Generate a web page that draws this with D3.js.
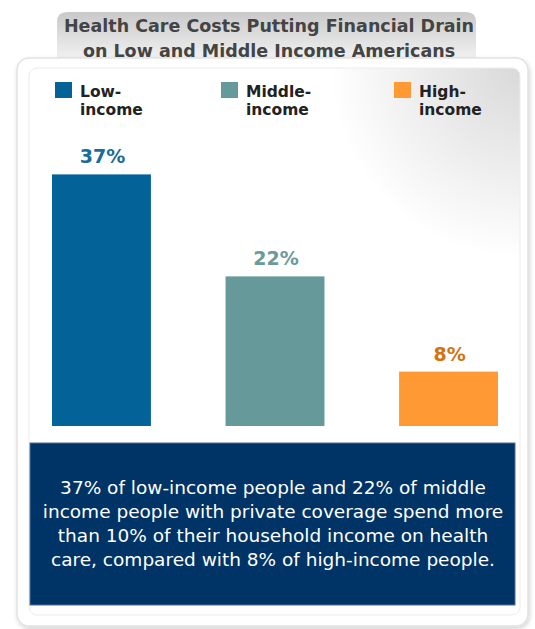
<!DOCTYPE html>
<html>
<head>
<meta charset="utf-8">
<script src="https://cdn.jsdelivr.net/npm/d3@7"></script>
<style>
  html, body { margin: 0; padding: 0; background: #fff; }
  svg { display: block; }
</style>
</head>
<body>
<svg id="chart"></svg>
<script>
// data
const categories = ['Low-income', 'Middle-income', 'High-income'];
const legendLines = [['Low-', 'income'], ['Middle-', 'income'], ['High-', 'income']];
const values = [37, 22, 8];
const titleLines = ['Health Care Costs Putting Financial Drain', 'on Low and Middle Income Americans'];
const noteLines = [
  '37% of low-income people and 22% of middle',
  'income people with private coverage spend more',
  'than 10% of their household income on health',
  'care, compared with 8% of high-income people.'
];

const barColors = ['#036399', '#669999', '#ff9933'];
const labelColors = ['#1b6b9b', '#6a9a9a', '#d2730f'];

const W = 535, H = 629;
const svg = d3.select('#chart').attr('width', W).attr('height', H);
const defs = svg.append('defs');

// gradients
const tabGrad = defs.append('linearGradient').attr('id', 'tabGrad')
  .attr('x1', 0).attr('y1', 0).attr('x2', 0).attr('y2', 1);
tabGrad.append('stop').attr('offset', '0%').attr('stop-color', '#c9c9c9');
tabGrad.append('stop').attr('offset', '100%').attr('stop-color', '#f4f4f4');

const panelGrad = defs.append('radialGradient').attr('id', 'panelGrad')
  .attr('gradientUnits', 'userSpaceOnUse')
  .attr('cx', 520).attr('cy', 68).attr('r', 190);
panelGrad.append('stop').attr('offset', '0%').attr('stop-color', '#d9d9d9');
panelGrad.append('stop').attr('offset', '100%').attr('stop-color', '#ffffff');

const shadow = defs.append('filter').attr('id', 'shadow')
  .attr('x', '-5%').attr('y', '-5%').attr('width', '110%').attr('height', '110%');
shadow.append('feDropShadow').attr('dx', 1).attr('dy', 2).attr('stdDeviation', 2)
  .attr('flood-color', '#000').attr('flood-opacity', 0.18);

// title tab
svg.append('path')
  .attr('d', 'M57,62 L57,22 Q57,12 67,12 L466,12 Q476,12 476,22 L476,62 Z')
  .attr('fill', 'url(#tabGrad)');

svg.append('g').selectAll('text').data(titleLines).enter().append('text')
  .attr('x', 269).attr('y', (d, i) => 32 + i * 25)
  .attr('text-anchor', 'middle')
  .style('font-family', 'DejaVu Sans, Verdana, sans-serif')
  .style('font-weight', 'bold').style('font-size', '17.5px')
  .attr('fill', '#444')
  .text(d => d);

// outer panel and inner panel
svg.append('rect').attr('x', 17).attr('y', 58).attr('width', 511).attr('height', 568)
  .attr('rx', 12).attr('fill', '#fff').attr('stroke', '#e2e2e2').attr('stroke-width', 1.5)
  .attr('filter', 'url(#shadow)');
svg.append('rect').attr('x', 29).attr('y', 68).attr('width', 491).attr('height', 547)
  .attr('rx', 8).attr('fill', 'url(#panelGrad)').attr('stroke', '#ececec');

// legend
const legendX = [55, 221, 394];
const legend = svg.append('g').selectAll('g').data(categories).enter().append('g')
  .attr('transform', (d, i) => 'translate(' + legendX[i] + ',82)');
legend.append('rect').attr('width', 17).attr('height', 16).attr('fill', (d, i) => barColors[i]);
legend.each(function(d, i) {
  d3.select(this).selectAll('text').data(legendLines[i]).enter().append('text')
    .attr('x', 25).attr('y', (t, j) => 15 + j * 18)
    .style('font-family', 'DejaVu Sans, Verdana, sans-serif')
    .style('font-weight', 'bold').style('font-size', '15.5px')
    .attr('fill', '#222')
    .text(t => t);
});

// scales
const x = d3.scaleBand().domain(categories).range([52, 498]).paddingInner(0.43).paddingOuter(0);
const y = d3.scaleLinear().domain([0, 40]).range([426, 154]);

const bars = svg.append('g');
bars.selectAll('rect').data(values).enter().append('rect')
  .attr('x', (d, i) => x(categories[i]))
  .attr('y', d => y(d))
  .attr('width', x.bandwidth())
  .attr('height', d => y(0) - y(d))
  .attr('fill', (d, i) => barColors[i]);

bars.selectAll('text').data(values).enter().append('text')
  .attr('x', (d, i) => x(categories[i]) + x.bandwidth() / 2 + 1)
  .attr('y', d => y(d) - 11)
  .attr('text-anchor', 'middle')
  .style('font-family', 'DejaVu Sans, Verdana, sans-serif')
  .style('font-weight', 'bold').style('font-size', '19px')
  .attr('fill', (d, i) => labelColors[i])
  .text(d => d + '%');

// note box
svg.append('rect').attr('x', 30).attr('y', 443).attr('width', 485).attr('height', 162)
  .attr('fill', '#003366').attr('stroke', '#4a6f9a').attr('stroke-width', 1);

svg.append('g').selectAll('text').data(noteLines).enter().append('text')
  .attr('x', 273).attr('y', (d, i) => 494 + i * 24)
  .attr('text-anchor', 'middle')
  .style('font-family', 'DejaVu Sans, Verdana, sans-serif')
  .style('font-size', '18.5px')
  .attr('fill', '#fff')
  .text(d => d);
</script>
</body>
</html>
